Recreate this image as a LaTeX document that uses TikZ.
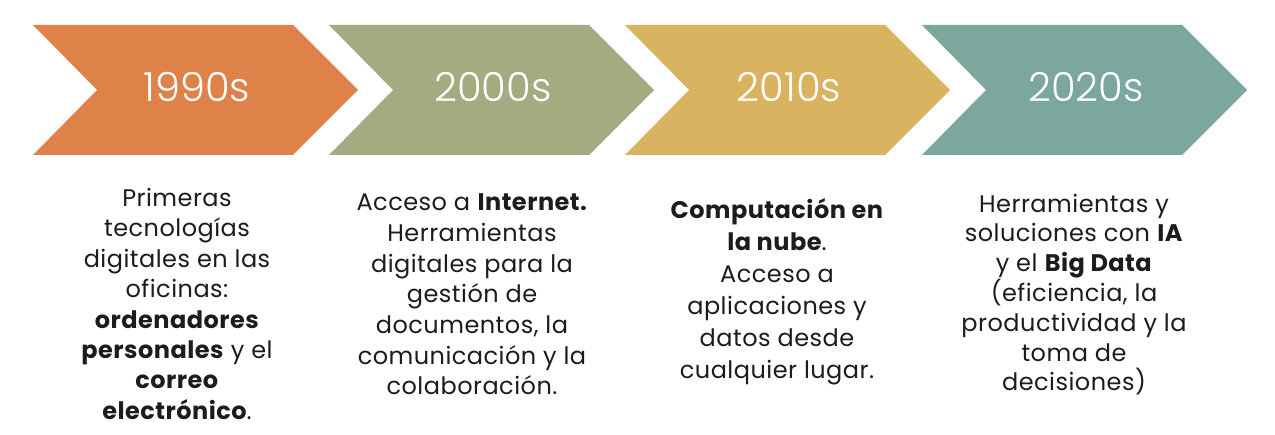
\documentclass[tikz,border=0pt]{standalone}
\usepackage{fontspec}
\setmainfont{Poppins}[LetterSpace=2]
\newfontfamily\yearfont{Poppins Light}
\definecolor{corange}{HTML}{DE8249}
\definecolor{cgreen}{HTML}{A4AB81}
\definecolor{cyellow}{HTML}{D9B35F}
\definecolor{cteal}{HTML}{7BA79C}
\definecolor{ctext}{HTML}{1C1C1C}
\tikzset{
  chev/.pic={\fill[pic actions] (0,0) -- (260,0) -- (325,65) -- (260,130) -- (0,130) -- (64,65) -- cycle;},
  year/.style={text=white, inner sep=0pt, font=\yearfont\fontsize{40}{44}\selectfont},
  desc/.style={align=center, text=ctext, inner sep=0pt, anchor=base, font=\fontsize{24}{#1}\selectfont},
  desc/.default=30.5
}
\begin{document}
\begin{tikzpicture}[x=1pt,y=-1pt]
\useasboundingbox (0,0) rectangle (1275,435);
\pic[fill=corange] at (33,25) {chev};
\pic[fill=cgreen] at (329,25) {chev};
\pic[fill=cyellow] at (625,25) {chev};
\pic[fill=cteal] at (922,25) {chev};
\node[year] (y1) at (197,87.5) {1990s};
\node[year] (y2) at (493,87.5) {2000s};
\node[year] (y3) at (789,87.5) {2010s};
\node[year] (y4) at (1086,87.5) {2020s};
\node[desc=30.4] (t1) at (177,419.3) {Primeras\\tecnologías\\digitales en las\\oficinas:\\\textbf{ordenadores}\\\textbf{personales} y el\\\textbf{correo}\\\textbf{electrónico}.};
\node[desc=30.7] (t2) at (472,395) {Acceso a \textbf{Internet.}\\Herramientas\\digitales para la\\gestión de\\documentos, la\\comunicación y la\\colaboración.};
\node[desc=32] (t3) at (777,379) {\textbf{Computación en}\\\textbf{la nube}.\\Acceso a\\aplicaciones y\\datos desde\\cualquier lugar.};
\node[desc=29.8] (t4) at (1074,391) {Herramientas y\\soluciones con \textbf{IA}\\y el \textbf{Big Data}\\(eficiencia, la\\productividad y la\\toma de\\decisiones)};
\end{tikzpicture}
\end{document}
